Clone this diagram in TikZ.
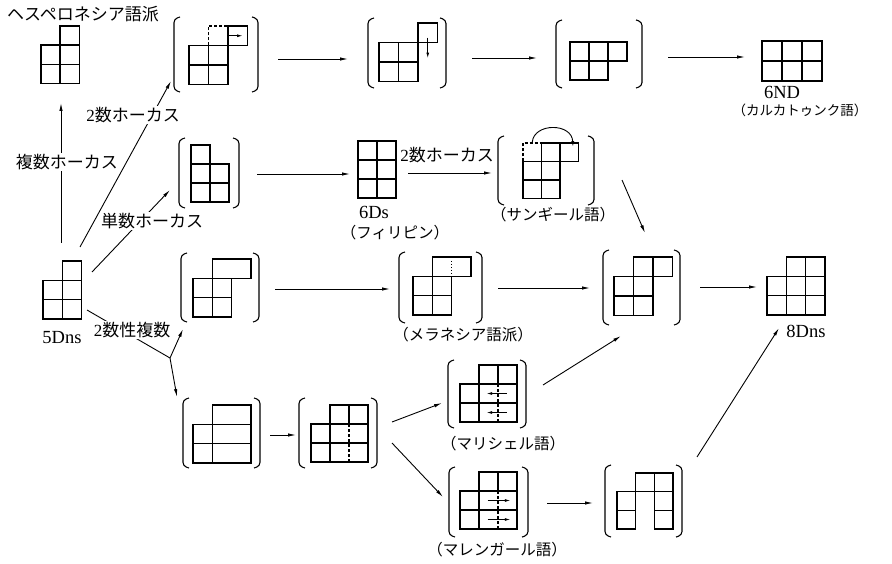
\documentclass[tikz,border=0pt]{standalone}
\usepackage{fontspec}
\setmainfont{Liberation Serif}
\newfontfamily\cjk{Noto Sans CJK JP}
\usetikzlibrary{arrows.meta}
\def\sz{19}
\newcommand{\sq}[2]{\draw[cellst] ({(#1)*\sz},{(#2)*\sz}) rectangle ({(#1+1)*\sz},{(#2+1)*\sz});}
\newcommand{\brackets}[4]{%
  \draw[brk] (#1+6,#3) -- (#1,#3+2) -- (#1,#4-2) -- (#1+6,#4);
  \draw[brk] (#2-6,#3) -- (#2,#3+2) -- (#2,#4-2) -- (#2-6,#4);}
\begin{document}
\begin{tikzpicture}[x=1pt,y=-1pt,
  cellst/.style={line width=1.45pt},
  brk/.style={line width=1.1pt, rounded corners=3.5pt},
  arr/.style={line width=0.9pt,-{Latex[length=8pt,width=3.4pt]}},
  plain/.style={line width=0.9pt},
  inarr/.style={line width=0.9pt,-{Latex[length=5.5pt,width=3pt]}},
  dsh/.style={line width=1.3pt,dash pattern=on 3pt off 2pt},
  dot/.style={line width=1.1pt,dash pattern=on 1.5pt off 1.5pt},
  jl/.style={font=\fontsize{17}{19}\selectfont\cjk, inner sep=1pt},
  wl/.style={jl, fill=white},
  pl/.style={font=\fontsize{15.5}{17}\selectfont\cjk, inner sep=0pt},
  ll/.style={font=\fontsize{18.5}{20}\selectfont, inner sep=0pt}]
\useasboundingbox (0,0) rectangle (892,564);

% ---------- A: Hesperonesia
\def\sz{19.2}
\begin{scope}[shift={(41,26)}]
\sq{1}{0}\sq{0}{1}\sq{1}{1}\sq{0}{2}\sq{1}{2}
\end{scope}
\node[jl] (lhes) at (83,14) {ヘスペロネシア語派};

% ---------- B
\def\sz{19.5}
\begin{scope}[shift={(189,26)}]
\sq{0}{1}\sq{1}{1}\sq{0}{2}\sq{1}{2}\sq{2}{0}
\draw[dsh] (\sz,\sz) -- (\sz,0) -- (2*\sz,0);
\draw[inarr] (1.95*\sz,0.5*\sz) -- (2.75*\sz,0.5*\sz);
\end{scope}
\brackets{174}{258}{17}{92}

% ---------- C
\begin{scope}[shift={(379,23)}]
\sq{0}{1}\sq{1}{1}\sq{0}{2}\sq{1}{2}\sq{2}{0}
\draw[inarr] (2.5*\sz,0.75*\sz) -- (2.5*\sz,1.8*\sz);
\end{scope}
\brackets{368}{446}{18}{88}

% ---------- D
\def\sz{19}
\begin{scope}[shift={(570,42)}]
\sq{0}{0}\sq{1}{0}\sq{2}{0}\sq{0}{1}\sq{1}{1}
\end{scope}
\brackets{556}{642}{20}{88}

% ---------- E: 6ND
\def\sz{20}
\begin{scope}[shift={(762,41)}]
\sq{0}{0}\sq{1}{0}\sq{2}{0}\sq{0}{1}\sq{1}{1}\sq{2}{1}
\end{scope}
\node[ll] (l6nd) at (782,92) {6ND};
\node[pl,font=\fontsize{13.5}{15}\selectfont\cjk] (lkal) at (800,110) {（カルカトゥンク語）};

% ---------- F
\def\sz{19}
\begin{scope}[shift={(191,145)}]
\sq{0}{0}\sq{0}{1}\sq{1}{1}\sq{0}{2}\sq{1}{2}
\end{scope}
\brackets{179}{239}{138}{208}

% ---------- G: 6Ds
\begin{scope}[shift={(358,141)}]
\sq{0}{0}\sq{1}{0}\sq{0}{1}\sq{1}{1}\sq{0}{2}\sq{1}{2}
\end{scope}
\node[ll] (l6ds) at (374,212) {6Ds};
\node[pl] (lfil) at (395,233) {（フィリピン）};

% ---------- H: Sangir
\def\sz{18.5}
\begin{scope}[shift={(523,143)}]
\sq{1}{0}\sq{2}{0}\sq{0}{1}\sq{1}{1}\sq{0}{2}\sq{1}{2}
\draw[dsh] (0,\sz) -- (0,0) -- (\sz,0);
\draw[inarr] (0.5*\sz,-0.05*\sz) .. controls (0.6*\sz,-1.1*\sz) and (2.65*\sz,-1.1*\sz) .. (2.7*\sz,0.2*\sz);
\end{scope}
\brackets{498}{594}{136}{205}
\node[pl] (lsan) at (553,215) {（サンギール語）};

% ---------- 5Dns
\def\sz{19.3}
\begin{scope}[shift={(43,261)}]
\sq{1}{0}\sq{0}{1}\sq{1}{1}\sq{0}{2}\sq{1}{2}
\end{scope}
\node[ll] (l5dns) at (62,338) {5Dns};

% ---------- I
\begin{scope}[shift={(193,259)}]
\draw[cellst] (\sz,0) rectangle (3*\sz,\sz);
\sq{0}{1}\sq{1}{1}\sq{0}{2}\sq{1}{2}
\end{scope}
\brackets{181}{259}{253}{322}

% ---------- K: Melanesia
\begin{scope}[shift={(413,257)}]
\draw[cellst] (\sz,0) rectangle (3*\sz,\sz);
\draw[dot] (2*\sz,0.2*\sz) -- (2*\sz,0.85*\sz);
\sq{0}{1}\sq{1}{1}\sq{0}{2}\sq{1}{2}
\end{scope}
\brackets{399}{482}{252}{323}
\node[pl] (lmel) at (463,335) {（メラネシア語派）};

% ---------- J
\def\sz{19.5}
\begin{scope}[shift={(614,257)}]
\sq{1}{0}\sq{2}{0}\sq{0}{1}\sq{1}{1}\sq{0}{2}\sq{1}{2}
\end{scope}
\brackets{603}{680}{250}{325}

% ---------- L: 8Dns
\def\sz{19.3}
\begin{scope}[shift={(767,257)}]
\sq{1}{0}\sq{2}{0}\sq{0}{1}\sq{1}{1}\sq{2}{1}\sq{0}{2}\sq{1}{2}\sq{2}{2}
\end{scope}
\node[ll] (l8dns) at (806,331) {8Dns};

% ---------- M
\begin{scope}[shift={(193,405)}]
\sq{0}{1}\sq{0}{2}
\draw[cellst] (\sz,0) rectangle (3*\sz,\sz);
\draw[cellst] (\sz,\sz) rectangle (3*\sz,2*\sz);
\draw[cellst] (\sz,2*\sz) rectangle (3*\sz,3*\sz);
\end{scope}
\brackets{183}{260}{398}{468}

% ---------- N
\def\sz{19}
\begin{scope}[shift={(311,405)}]
\sq{1}{0}\sq{2}{0}\sq{0}{1}\sq{0}{2}
\draw[cellst] (\sz,\sz) rectangle (3*\sz,3*\sz);
\draw[cellst] (\sz,2*\sz) -- (3*\sz,2*\sz);
\draw[dsh] (2*\sz,\sz) -- (2*\sz,3*\sz);
\end{scope}
\brackets{299}{377}{398}{468}

% ---------- O: Marshall
\begin{scope}[shift={(460,365)}]
\sq{1}{0}\sq{2}{0}\sq{0}{1}\sq{0}{2}
\draw[cellst] (\sz,\sz) rectangle (3*\sz,3*\sz);
\draw[cellst] (\sz,2*\sz) -- (3*\sz,2*\sz);
\draw[dsh] (2*\sz,\sz) -- (2*\sz,3*\sz);
\draw[inarr] (2.47*\sz,1.5*\sz) -- (1.4*\sz,1.5*\sz);
\draw[inarr] (2.47*\sz,2.5*\sz) -- (1.4*\sz,2.5*\sz);
\end{scope}
\brackets{448}{526}{360}{428}
\node[pl] (lmar) at (503,444) {（マリシェル語）};

% ---------- P: Marengar
\begin{scope}[shift={(460,472)}]
\sq{1}{0}\sq{2}{0}\sq{0}{1}\sq{0}{2}
\draw[cellst] (\sz,\sz) rectangle (3*\sz,3*\sz);
\draw[cellst] (\sz,2*\sz) -- (3*\sz,2*\sz);
\draw[dsh] (2*\sz,\sz) -- (2*\sz,3*\sz);
\draw[inarr] (1.45*\sz,1.5*\sz) -- (2.65*\sz,1.5*\sz);
\draw[inarr] (1.45*\sz,2.5*\sz) -- (2.65*\sz,2.5*\sz);
\end{scope}
\brackets{449}{528}{467}{537}
\node[pl] (lmrg) at (497,550) {（マレンガール語）};

% ---------- Q
\def\sz{18.7}
\begin{scope}[shift={(617,473)}]
\sq{1}{0}\sq{2}{0}\sq{0}{1}\sq{0}{2}\sq{2}{1}\sq{2}{2}
\end{scope}
\brackets{605}{682}{465}{537}

% ---------- connector end points
\coordinate (d5up) at (61,243);   \coordinate (Ain) at (61,103);
\coordinate (d5b) at (80,247);    \coordinate (Bin) at (171,81);
\coordinate (d5f) at (92,272);    \coordinate (Fin) at (170,190);
\coordinate (d5j) at (87,310);    \coordinate (jn) at (170,358);
\coordinate (Iin) at (183,329);   \coordinate (Min) at (177,397);
\coordinate (Bout) at (278,59);   \coordinate (Cin) at (348,59);
\coordinate (Cout) at (472,58);   \coordinate (Din) at (537,58);
\coordinate (Dout) at (668,57);   \coordinate (Ein) at (745,57);
\coordinate (Fout) at (257,174);  \coordinate (Gin) at (350,174);
\coordinate (Gout) at (408,173);  \coordinate (Hin) at (492,173);
\coordinate (Hout) at (622,180);  \coordinate (Jin1) at (645,233);
\coordinate (Iout) at (275,289);  \coordinate (Kin) at (390,289);
\coordinate (Kout) at (498,288);  \coordinate (Jin2) at (590,288);
\coordinate (Jout) at (700,287);  \coordinate (Lin1) at (757,287);
\coordinate (Mout) at (270,435);  \coordinate (Nin) at (296,435);
\coordinate (Nout1) at (392,422); \coordinate (Oin) at (442,403);
\coordinate (Nout2) at (392,443); \coordinate (Pin) at (443,497);
\coordinate (Oout) at (543,385);  \coordinate (Jin3) at (621,336);
\coordinate (Pout) at (547,503);  \coordinate (Qin) at (593,503);
\coordinate (Qout) at (697,457);  \coordinate (Lin2) at (779,328);

\draw[arr] (d5up) -- (Ain);
\draw[arr] (d5b) -- (Bin);
\draw[arr] (d5f) -- (Fin);
\draw[plain] (d5j) -- (jn);
\draw[arr] (jn) -- (Iin);
\draw[arr] (jn) -- (Min);
\draw[arr] (Bout) -- (Cin);
\draw[arr] (Cout) -- (Din);
\draw[arr] (Dout) -- (Ein);
\draw[arr] (Fout) -- (Gin);
\draw[arr] (Gout) -- (Hin);
\draw[arr] (Hout) -- (Jin1);
\draw[arr] (Iout) -- (Kin);
\draw[arr] (Kout) -- (Jin2);
\draw[arr] (Jout) -- (Lin1);
\draw[arr] (Mout) -- (Nin);
\draw[arr] (Nout1) -- (Oin);
\draw[arr] (Nout2) -- (Pin);
\draw[arr] (Oout) -- (Jin3);
\draw[arr] (Pout) -- (Qin);
\draw[arr] (Qout) -- (Lin2);

% ---------- connector labels
\node[wl] (lfuku) at (67,162) {複数ホーカス};
\node[wl] (l2hoa) at (133,115) {{\rmfamily 2}数ホーカス};
\node[wl] (ltan) at (152,221) {単数ホーカス};
\node[wl] (l2sei) at (132,330) {{\rmfamily 2}数性複数};
\node[jl] (l2hob) at (447,155) {{\rmfamily 2}数ホーカス};
\end{tikzpicture}
\end{document}
